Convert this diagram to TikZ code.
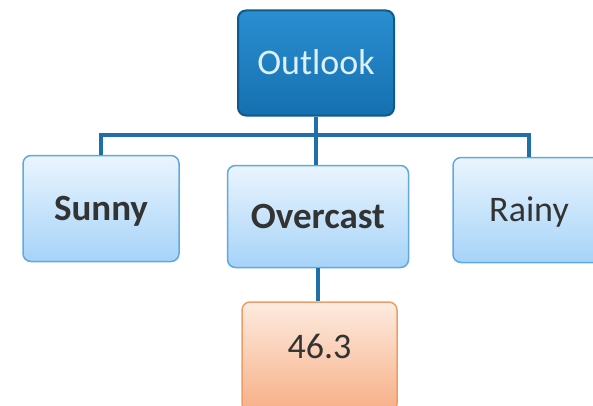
\documentclass[tikz,border=0pt]{standalone}
\usepackage{fontspec}
\setmainfont{Carlito}
\definecolor{linecol}{HTML}{1F6FA8}
\definecolor{darkfillT}{HTML}{2A8ED0}
\definecolor{darkfillB}{HTML}{1670B0}
\definecolor{darkborder}{HTML}{0F5A8C}
\definecolor{lightT}{HTML}{EAF5FE}
\definecolor{lightB}{HTML}{A6D3F8}
\definecolor{lightborder}{HTML}{5FA9E0}
\definecolor{orangeT}{HTML}{FDEBE0}
\definecolor{orangeB}{HTML}{F7AF86}
\definecolor{orangeborder}{HTML}{EE9D68}
\definecolor{txt}{HTML}{333333}
\definecolor{toptxt}{HTML}{DDF0FB}
\tikzset{
  boxbase/.style={rectangle, rounded corners=8pt, inner sep=0pt, text height=23pt, text depth=0pt, font=\fontsize{36}{40}\selectfont},
  topbox/.style={boxbase, draw=darkborder, line width=2pt, top color=darkfillT, bottom color=darkfillB, text=toptxt},
  childbox/.style={boxbase, draw=lightborder, line width=1.5pt, top color=lightT, bottom color=lightB, text=txt},
  leafbox/.style={boxbase, draw=orangeborder, line width=1.5pt, top color=orangeT, bottom color=orangeB, text=txt},
  conn/.style={draw=linecol, line width=4pt},
}
\begin{document}
\begin{tikzpicture}[x=1pt,y=1pt]
\useasboundingbox (0,0) rectangle (593,405);
\begin{scope}
\clip (0,0) rectangle (593,405);
\coordinate (j) at (318,270);
\node[topbox, minimum width=156pt, minimum height=105pt] (outlook) at (316,342) {Outlook};
\node[childbox, minimum width=156pt, minimum height=106pt, font=\fontsize{37}{40}\selectfont\bfseries] (sunny) at (101,196.5) {Sunny};
\node[childbox, minimum width=181pt, minimum height=102pt, font=\fontsize{37}{40}\selectfont\bfseries] (overcast) at (318,188.5) {Overcast};
\node[childbox, minimum width=152pt, minimum height=105pt] (rainy) at (529,195) {Rainy};
\node[leafbox, minimum width=155pt, minimum height=110pt] (leaf) at (319.5,48) {};
\node[text=txt, inner sep=0pt, text height=23pt, text depth=0pt, font=\fontsize{36}{40}\selectfont] (leaftext) at (319.5,58) {46.3};
\path[conn] (outlook.south) -- (outlook.south |- overcast.north);
\path[conn] (sunny.north) |- (j) -| (rainy.north);
\path[conn] (overcast.south) -- (overcast.south |- leaf.north);
\end{scope}
\end{tikzpicture}
\end{document}
